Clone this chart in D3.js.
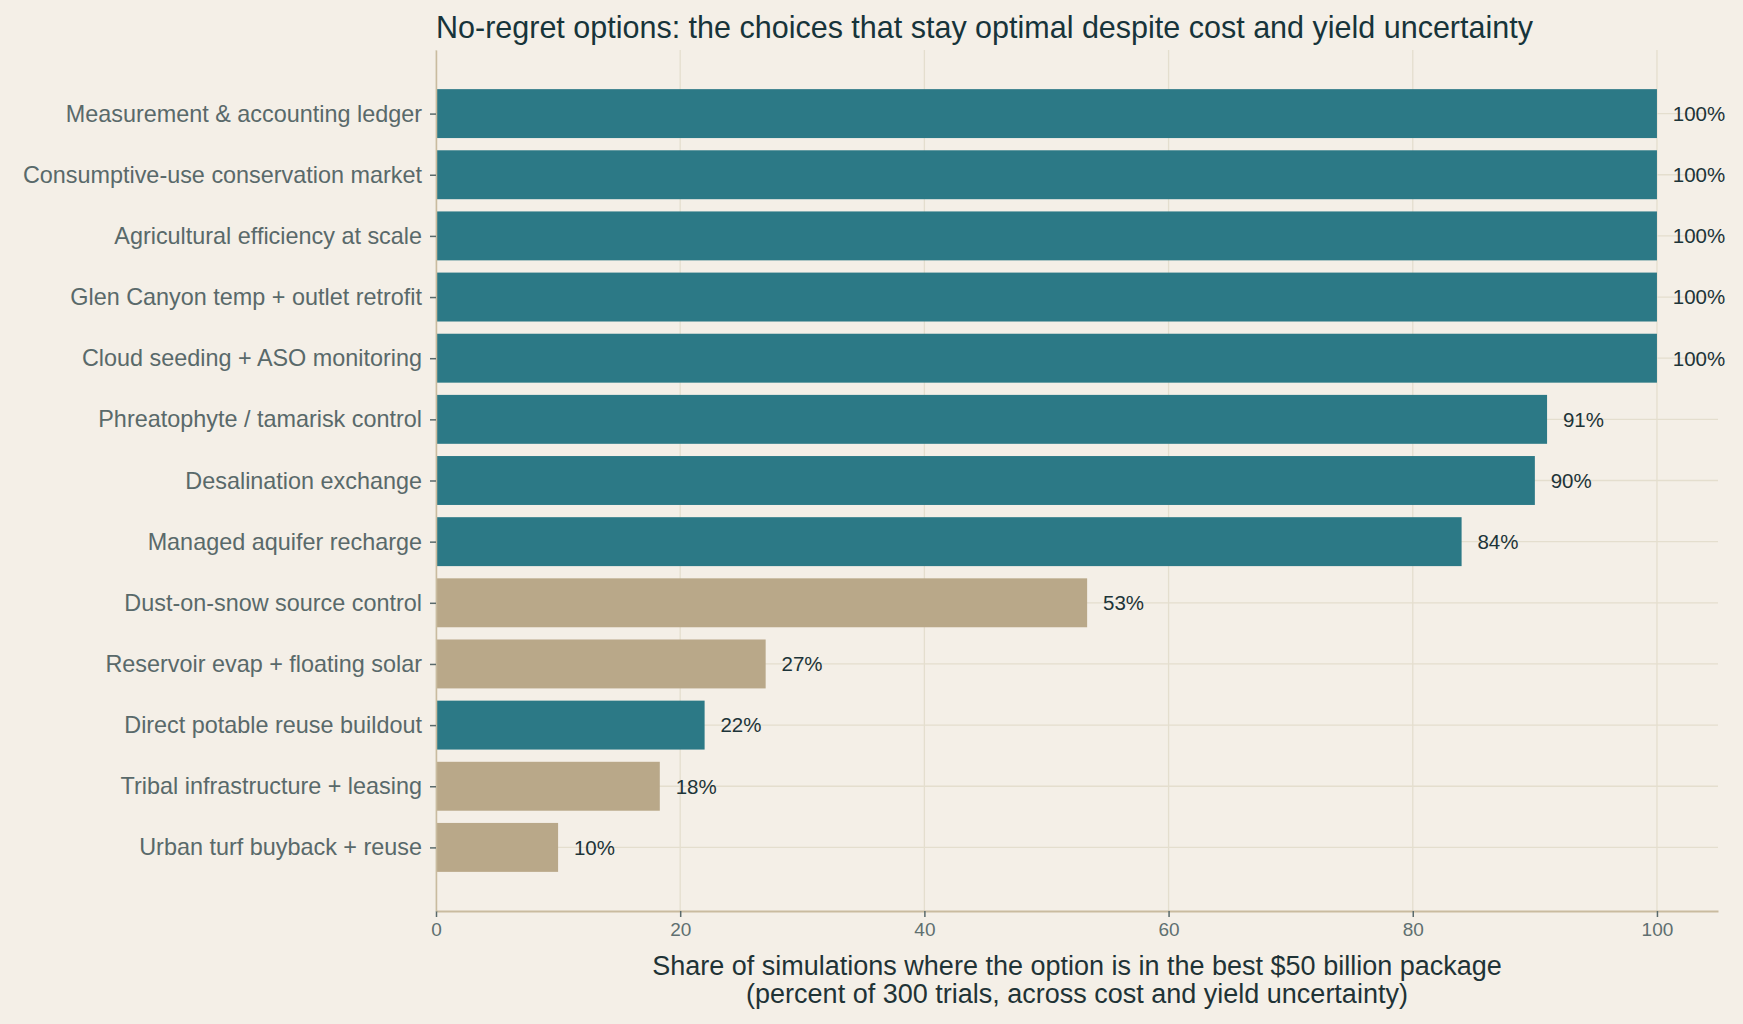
<!DOCTYPE html>
<html>
<head>
<meta charset="utf-8">
<script src="https://cdn.jsdelivr.net/npm/d3@7"></script>
<style>
  html, body { margin: 0; padding: 0; background: #f4efe7; }
  svg { display: block; }
</style>
</head>
<body>
<svg id="chart"></svg>
<script>
const width = 1743, height = 1024;

// data
const options = [
    "Measurement & accounting ledger",
    "Consumptive-use conservation market",
    "Agricultural efficiency at scale",
    "Glen Canyon temp + outlet retrofit",
    "Cloud seeding + ASO monitoring",
    "Phreatophyte / tamarisk control",
    "Desalination exchange",
    "Managed aquifer recharge",
    "Dust-on-snow source control",
    "Reservoir evap + floating solar",
    "Direct potable reuse buildout",
    "Tribal infrastructure + leasing",
    "Urban turf buyback + reuse"
];
const shares = [100, 100, 100, 100, 100, 91, 90, 84, 53.33, 27, 22, 18.33, 10];
const highlighted = [true, true, true, true, true, true, true, true, false, false, true, false, false];
const xTicks = [0, 20, 40, 60, 80, 100];

const title = "No-regret options: the choices that stay optimal despite cost and yield uncertainty";
const xLabelLines = [
    "Share of simulations where the option is in the best $50 billion package",
    "(percent of 300 trials, across cost and yield uncertainty)"
];

const colors = { on: "#2c7986", off: "#b9a889" };
const font = "'Liberation Sans', Arial, Helvetica, sans-serif";

const margin = { top: 50, right: 25, bottom: 113, left: 436 };
const svg = d3.select("#chart")
            .attr("width", width)
            .attr("height", height)
            .style("font-family", font);

svg.append("rect")
    .attr("width", width)
    .attr("height", height)
    .attr("fill", "#f4efe7");

const x = d3.scaleLinear()
            .domain([0, 105])
            .range([margin.left, width - margin.right]);

// matplotlib style auto limits around barh rows 0..12
const n = options.length;
const pad = 0.05 * (n - 1 + 0.8);
const y = d3.scaleLinear()
            .domain([-0.4 - pad, n - 1 + 0.4 + pad])
            .range([margin.top, height - margin.bottom]);

const rows = options.map((name, i) => ({ name, value: shares[i], on: highlighted[i], i }));

// grid
svg.append("g")
    .selectAll("line")
    .data(xTicks)
    .enter().append("line")
    .attr("x1", d => x(d))
    .attr("x2", d => x(d))
    .attr("y1", y.range()[0])
    .attr("y2", y.range()[1])
    .attr("stroke", "#e4dece")
    .attr("stroke-width", 1.3);

svg.append("g")
    .selectAll("line")
    .data(rows)
    .enter().append("line")
    .attr("x1", x.range()[0])
    .attr("x2", x.range()[1])
    .attr("y1", d => y(d.i))
    .attr("y2", d => y(d.i))
    .attr("stroke", "#e4dece")
    .attr("stroke-width", 1.3);

// bars
svg.append("g")
    .selectAll("rect")
    .data(rows)
    .enter().append("rect")
    .attr("x", x(0))
    .attr("y", d => y(d.i - 0.4))
    .attr("width", d => x(d.value) - x(0))
    .attr("height", y(0.8) - y(0))
    .attr("fill", d => d.on ? colors.on : colors.off);

// value labels
svg.append("g")
    .selectAll("text")
    .data(rows)
    .enter().append("text")
    .attr("x", d => x(d.value + 1.3))
    .attr("y", d => y(d.i))
    .attr("dy", "0.36em")
    .attr("fill", "#1d3438")
    .style("font-size", "20.5px")
    .text(d => `${Math.round(d.value)}%`);

// x axis
const xAxis = svg.append("g")
    .attr("transform", `translate(0,${y.range()[1]})`)
    .call(d3.axisBottom(x).tickValues(xTicks).tickSize(6).tickPadding(6).tickSizeOuter(0));
xAxis.select(".domain").attr("stroke", "#c9bb9f").attr("stroke-width", 2);
xAxis.selectAll(".tick line").attr("stroke", "#5a6a6b").attr("stroke-width", 1.5);
xAxis.selectAll(".tick text")
    .attr("fill", "#5f6f70")
    .style("font-family", font)
    .style("font-size", "19px");

// y axis
const yAxis = svg.append("g")
    .attr("transform", `translate(${x(0)},0)`)
    .call(d3.axisLeft(y).tickValues(rows.map(d => d.i)).tickFormat(i => options[i])
        .tickSize(6).tickPadding(8).tickSizeOuter(0));
yAxis.select(".domain").attr("stroke", "#c9bb9f").attr("stroke-width", 1.5);
yAxis.selectAll(".tick line").attr("stroke", "#5a6a6b").attr("stroke-width", 1.5);
yAxis.selectAll(".tick text")
    .attr("fill", "#59696a")
    .style("font-family", font)
    .style("font-size", "23.4px");

// title
svg.append("text")
    .attr("x", x(0))
    .attr("y", 37.5)
    .attr("fill", "#17343a")
    .style("font-size", "30.5px")
    .text(title);

// x label
svg.append("g")
    .selectAll("text")
    .data(xLabelLines)
    .enter().append("text")
    .attr("x", (x.range()[0] + x.range()[1]) / 2)
    .attr("y", (d, i) => 975 + i * 28)
    .attr("text-anchor", "middle")
    .attr("fill", "#1f3336")
    .style("font-size", "27px")
    .text(d => d);
</script>
</body>
</html>
